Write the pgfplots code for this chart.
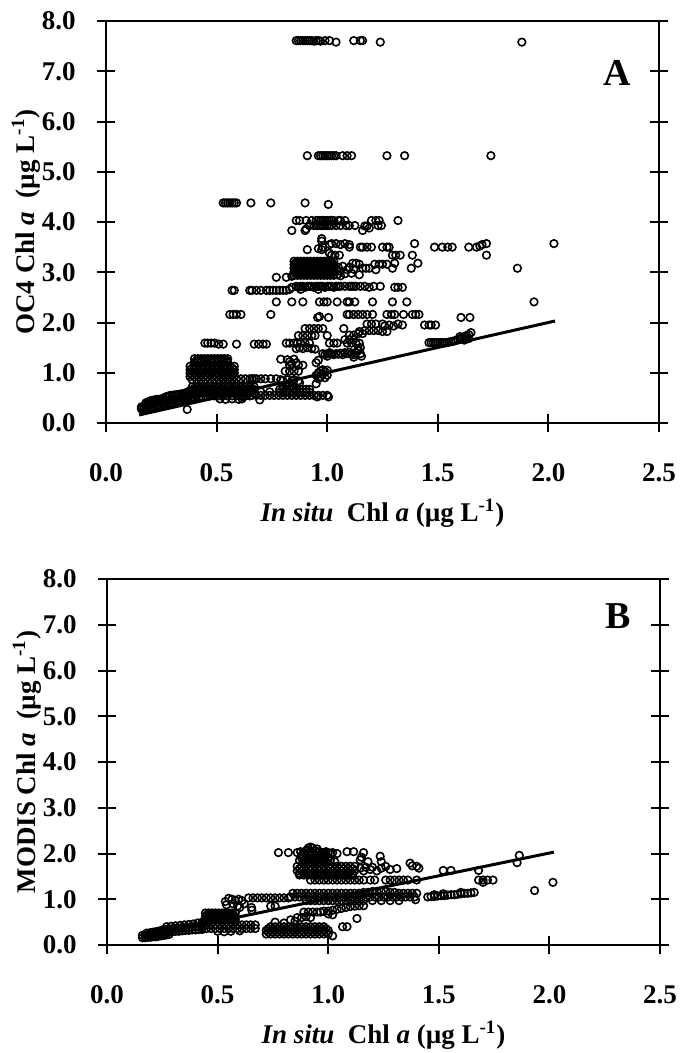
\documentclass[border=0pt]{standalone}
\usepackage{fontspec}
\setmainfont{Liberation Serif}
\usepackage{pgfplots}
\pgfplotsset{compat=1.18}

\pgfplotsset{chl/.style={
  scale only axis, width=276.5pt,
  xmin=0, xmax=2.5, ymin=0, ymax=8,
  xtick={0,0.5,1,1.5,2,2.5}, ytick={0,1,2,3,4,5,6,7,8},
  axis line style={line width=1pt},
  tick align=center, major tick length=9pt,
  every tick/.style={black, line width=1pt},
  xtick pos=left, ytick pos=both,
  /pgf/number format/assume math mode=true,
  tick label style={font=\bfseries\fontsize{13.5}{13.5}\selectfont},
  xticklabel style={yshift=-12.4pt,/pgf/number format/fixed,/pgf/number format/fixed zerofill,/pgf/number format/precision=1},
  yticklabel style={xshift=-7.2pt,/pgf/number format/fixed,/pgf/number format/fixed zerofill,/pgf/number format/precision=1},
  every axis y label/.style={at={(axis description cs:-0.1447,0.5)}, rotate=90, anchor=center,
    font=\bfseries\fontsize{13.5}{15}\selectfont},
  every axis x label/.style={at={(axis description cs:0.5,0)}, anchor=center, yshift=-45pt,
    font=\bfseries\fontsize{13.5}{15}\selectfont},
  xlabel={\textit{In situ}\ \ Chl \textit{a} (µg L\textsuperscript{-1})},
  pts/.style={only marks, mark=o, mark size=1.9pt, mark options={line width=0.8pt, black}},
  oneone/.style={black, line width=1.5pt, no marks},
}}

\begin{document}
\begin{tikzpicture}
\path[use as bounding box] (0,0) rectangle (341pt,-526.5pt);

% ---------------- panel A: OC4 ----------------
\begin{axis}[chl, at={(53pt,-211.5pt)}, anchor=south west, height=201pt,
  ylabel={OC4 Chl \textit{a} \ (µg L\textsuperscript{-1})}]
\addplot[pts] coordinates {
(0.86,7.61) (0.87,7.61) (0.88,7.61) (0.89,7.61) (0.90,7.61) (0.91,7.61) (0.92,7.61) (0.93,7.61) (0.94,7.60) (0.95,7.61)
(0.96,7.61) (0.97,7.60) (0.99,7.61) (1.01,7.61) (1.04,7.58) (1.12,7.61) (1.15,7.61) (1.16,7.61) (1.24,7.58) (1.88,7.58)
(0.91,5.32) (0.96,5.32) (0.97,5.32) (0.98,5.32) (0.99,5.32) (1.00,5.32) (1.01,5.32) (1.02,5.32) (1.03,5.32) (1.04,5.32)
(1.07,5.32) (1.09,5.32) (1.11,5.32) (1.27,5.32) (1.35,5.32) (1.74,5.32)
(0.53,4.38) (0.54,4.38) (0.55,4.38) (0.56,4.38) (0.57,4.38) (0.58,4.38) (0.59,4.38) (0.655,4.38) (0.745,4.38) (0.90,4.38) (1.005,4.35)
(0.86,4.03) (0.875,4.03) (0.905,4.03) (0.93,4.03) (0.95,4.03) (0.96,4.03) (0.97,4.03) (0.98,4.03) (0.99,4.03) (1.00,4.03)
(1.01,4.03) (1.02,4.03) (1.03,4.03) (1.05,4.03) (1.06,4.03) (1.08,4.03) (1.20,4.03) (1.22,4.03) (1.235,4.03) (1.32,4.03)
(0.92,3.93) (0.94,3.93) (0.95,3.93) (0.96,3.93) (0.97,3.93) (0.98,3.93) (0.99,3.93) (1.00,3.93) (1.01,3.93) (1.02,3.93)
(1.04,3.93) (1.06,3.93) (1.085,3.93) (1.10,3.93) (1.125,3.93) (1.17,3.92) (1.18,3.92) (1.23,3.93) (1.245,3.93)
(0.84,3.83) (0.90,3.83) (0.905,3.86) (1.16,3.83) (1.19,3.88) (0.975,3.67) (0.975,3.62)
(0.96,3.47) (0.975,3.45) (0.98,3.50) (0.91,3.45) (1.01,3.55) (1.02,3.57) (1.04,3.57) (1.06,3.55) (1.08,3.57) (1.10,3.55)
(1.10,3.50) (1.15,3.50) (1.16,3.50) (1.18,3.50) (1.20,3.50) (1.25,3.50) (1.27,3.50) (1.28,3.50) (1.395,3.57) (1.485,3.50)
(1.52,3.50) (1.545,3.50) (1.565,3.50) (1.64,3.50) (1.675,3.50) (1.69,3.52) (1.70,3.55) (1.72,3.57) (2.025,3.57)
(1.02,3.34) (1.035,3.34) (1.055,3.34) (1.295,3.34) (1.31,3.34) (1.33,3.34) (1.385,3.34) (1.72,3.34) (1.01,3.38)
(1.115,3.18) (1.13,3.18) (1.145,3.16) (1.215,3.16) (1.235,3.16) (1.25,3.16) (1.27,3.16) (1.305,3.18) (1.41,3.18)
(1.16,3.08) (1.175,3.08) (1.19,3.08) (1.295,3.08) (1.38,3.08) (1.22,3.05) (1.145,2.95) (1.86,3.08)
(0.85,3.22) (0.865,3.22) (0.88,3.22) (0.895,3.22) (0.91,3.22) (0.925,3.22) (0.94,3.22) (0.955,3.22) (0.97,3.22) (0.985,3.22) (1.00,3.22) (1.015,3.22) (1.03,3.22)
(0.85,3.15) (0.865,3.15) (0.88,3.15) (0.895,3.15) (0.91,3.15) (0.925,3.15) (0.94,3.15) (0.955,3.15) (0.97,3.15) (0.985,3.15) (1.00,3.15) (1.015,3.15) (1.03,3.15)
(0.85,3.08) (0.865,3.08) (0.88,3.08) (0.895,3.08) (0.91,3.08) (0.925,3.08) (0.94,3.08) (0.955,3.08) (0.97,3.08) (0.985,3.08) (1.00,3.08) (1.015,3.08) (1.03,3.08)
(0.85,3.01) (0.865,3.01) (0.88,3.01) (0.895,3.01) (0.91,3.01) (0.925,3.01) (0.94,3.01) (0.955,3.01) (0.97,3.01) (0.985,3.01) (1.00,3.01) (1.015,3.01) (1.03,3.01)
(0.85,2.94) (0.865,2.94) (0.88,2.94) (0.895,2.94) (0.91,2.94) (0.925,2.94) (0.94,2.94) (0.955,2.94) (0.97,2.94) (0.985,2.94) (1.00,2.94) (1.015,2.94) (1.03,2.94)
(0.857,3.185) (0.872,3.185) (0.887,3.185) (0.902,3.185) (0.917,3.185) (0.932,3.185) (0.947,3.185) (0.962,3.185) (0.977,3.185) (0.992,3.185) (1.007,3.185) (1.022,3.185)
(0.857,3.115) (0.872,3.115) (0.887,3.115) (0.902,3.115) (0.917,3.115) (0.932,3.115) (0.947,3.115) (0.962,3.115) (0.977,3.115) (0.992,3.115) (1.007,3.115) (1.022,3.115)
(0.857,3.045) (0.872,3.045) (0.887,3.045) (0.902,3.045) (0.917,3.045) (0.932,3.045) (0.947,3.045) (0.962,3.045) (0.977,3.045) (0.992,3.045) (1.007,3.045) (1.022,3.045)
(0.857,2.975) (0.872,2.975) (0.887,2.975) (0.902,2.975) (0.917,2.975) (0.932,2.975) (0.947,2.975) (0.962,2.975) (0.977,2.975) (0.992,2.975) (1.007,2.975) (1.022,2.975)
(1.05,3.10) (1.06,3.02) (1.07,3.12) (1.08,2.97) (1.09,3.05) (1.10,3.10) (1.11,2.98) (1.12,3.06) (1.06,2.93) (1.045,2.95)
(0.77,2.90) (0.815,2.90) (0.84,2.92)
(0.57,2.64) (0.58,2.64) (0.65,2.64) (0.66,2.64) (0.68,2.64) (0.70,2.64) (0.725,2.64) (0.74,2.64) (0.755,2.64) (0.77,2.64)
(0.785,2.64) (0.80,2.64) (0.815,2.64) (0.83,2.66) (0.84,2.70) (0.86,2.72) (0.87,2.70) (0.88,2.72) (0.89,2.72) (0.90,2.70)
(0.91,2.72) (0.92,2.72) (0.93,2.72) (0.94,2.70) (0.95,2.72) (0.96,2.72) (0.97,2.72) (0.98,2.72) (0.99,2.70) (1.00,2.72)
(1.01,2.72) (1.02,2.72) (1.03,2.70) (1.04,2.72) (1.05,2.72) (1.06,2.72) (1.08,2.72) (1.10,2.72) (1.11,2.72) (1.12,2.72)
(1.13,2.72) (1.15,2.72) (1.17,2.72) (1.19,2.70) (1.21,2.72) (1.24,2.72) (1.305,2.70) (1.32,2.70) (1.34,2.70) (0.96,2.66) (0.88,2.66)
(0.77,2.41) (0.84,2.41) (0.89,2.41) (0.965,2.41) (0.985,2.41) (1.00,2.41) (1.045,2.41) (1.09,2.41) (1.10,2.41) (1.125,2.41)
(1.205,2.41) (1.295,2.41) (1.36,2.41) (1.935,2.41)
(0.56,2.16) (0.575,2.16) (0.59,2.16) (0.61,2.16) (0.745,2.16) (0.957,2.10) (0.965,2.12) (1.006,2.10) (1.09,2.16) (1.10,2.16)
(1.12,2.16) (1.14,2.16) (1.16,2.16) (1.18,2.16) (1.205,2.16) (1.27,2.16) (1.29,2.16) (1.305,2.16) (1.345,2.16) (1.385,2.16)
(1.40,2.16) (1.415,2.16) (1.605,2.10) (1.645,2.10)
(1.18,1.97) (1.20,1.97) (1.22,1.97) (1.25,1.97) (1.26,1.93) (1.28,1.95) (1.30,1.93) (1.32,1.97) (1.34,1.95) (1.44,1.95)
(1.46,1.95) (1.47,1.95) (1.49,1.95) (0.90,1.88) (0.92,1.88) (0.94,1.88) (0.96,1.88) (0.98,1.88) (1.075,1.88)
(1.145,1.82) (1.17,1.84) (1.19,1.84) (1.21,1.84) (1.23,1.84) (1.25,1.82) (1.27,1.82) (1.10,1.75) (1.12,1.75) (1.14,1.78)
(1.16,1.78) (0.87,1.74) (0.89,1.74) (0.91,1.74) (0.93,1.74) (0.945,1.74) (1.00,1.74) (1.08,1.66) (1.10,1.66) (1.12,1.66)
(0.447,1.59) (0.46,1.59) (0.475,1.59) (0.49,1.59) (0.51,1.57) (0.53,1.57) (0.59,1.57) (0.67,1.57) (0.69,1.57) (0.71,1.57)
(0.725,1.57) (0.815,1.59) (0.83,1.59) (0.85,1.59) (0.865,1.59) (0.88,1.59) (0.90,1.59) (0.92,1.59) (1.01,1.59) (1.03,1.59)
(1.045,1.59) (1.09,1.59) (1.11,1.59) (1.13,1.59) (1.145,1.59)
(1.46,1.60) (1.47,1.60) (1.48,1.60) (1.49,1.60) (1.50,1.60) (1.51,1.60) (1.52,1.60) (1.53,1.60) (1.54,1.60) (1.55,1.61)
(1.56,1.62) (1.57,1.63) (1.58,1.64) (1.59,1.66) (1.60,1.68) (1.60,1.72) (1.61,1.70) (1.62,1.72) (1.63,1.74) (1.64,1.76)
(1.65,1.80) (1.62,1.65) (1.64,1.68)
(0.86,1.48) (0.875,1.50) (0.89,1.48) (0.91,1.50) (0.93,1.48) (0.945,1.47)
(0.98,1.38) (0.99,1.36) (1.00,1.38) (1.01,1.40) (1.02,1.38) (1.03,1.36) (1.04,1.38) (1.05,1.37) (1.06,1.39) (1.07,1.36)
(1.08,1.40) (1.09,1.38) (1.10,1.41) (1.11,1.38) (1.12,1.36) (1.13,1.40) (1.14,1.44) (1.15,1.38) (1.155,1.33) (1.12,1.31)
(1.14,1.47) (1.15,1.50) (1.00,1.33) (0.96,1.25)
(0.79,1.27) (0.82,1.26) (0.83,1.22) (0.84,1.18) (0.85,1.27) (0.86,1.20) (0.87,1.15) (0.83,1.15) (0.95,1.20) (0.89,1.15)
(0.81,1.03) (0.83,1.03) (0.85,1.03) (0.87,1.03)
(0.95,0.95) (0.96,1.00) (0.97,1.04) (0.98,0.97) (0.99,1.02) (1.00,0.95) (0.97,0.92) (0.99,0.90) (0.96,0.88) (1.00,1.05) (0.98,1.06) (0.95,0.78)
(0.53,0.88) (0.55,0.88) (0.57,0.88) (0.59,0.88) (0.61,0.88) (0.63,0.88) (0.65,0.88) (0.66,0.88) (0.67,0.88) (0.68,0.88)
(0.70,0.88) (0.72,0.88) (0.745,0.88) (0.77,0.88) (0.79,0.86) (0.80,0.84) (0.82,0.86) (0.84,0.84) (0.85,0.86) (0.87,0.84) (0.875,0.80)
(0.66,0.55) (0.68,0.55) (0.70,0.55) (0.72,0.55) (0.74,0.55) (0.76,0.55) (0.78,0.55) (0.80,0.55) (0.82,0.55) (0.84,0.55)
(0.86,0.55) (0.88,0.55) (0.90,0.55) (0.92,0.55) (0.94,0.55) (0.96,0.55) (0.98,0.55) (1.00,0.55)
(0.785,0.61) (0.80,0.61) (0.815,0.61) (0.83,0.61) (0.845,0.61) (0.86,0.61) (0.875,0.61) (0.89,0.61) (0.905,0.61) (0.92,0.61)
(0.785,0.67) (0.80,0.67) (0.815,0.67) (0.83,0.67) (0.845,0.67) (0.86,0.67) (0.875,0.67) (0.89,0.67) (0.905,0.67) (0.92,0.67)
(0.80,0.72) (0.82,0.76) (0.84,0.74) (0.85,0.70) (0.695,0.46) (0.955,0.52) (1.006,0.52) (0.64,0.58) (0.62,0.52) (0.70,0.62) (0.74,0.62)
(0.40,1.28) (0.415,1.28) (0.43,1.28) (0.445,1.28) (0.46,1.28) (0.475,1.28) (0.49,1.28) (0.505,1.28) (0.52,1.28) (0.535,1.28) (0.55,1.28)
(0.40,1.21) (0.415,1.21) (0.43,1.21) (0.445,1.21) (0.46,1.21) (0.475,1.21) (0.49,1.21) (0.505,1.21) (0.52,1.21) (0.535,1.21) (0.55,1.21)
(0.41,1.245) (0.43,1.245) (0.45,1.245) (0.47,1.245) (0.49,1.245) (0.51,1.245) (0.53,1.245) (0.545,1.245)
(0.38,1.13) (0.40,1.13) (0.42,1.13) (0.44,1.13) (0.46,1.13) (0.48,1.13) (0.50,1.13) (0.52,1.13) (0.54,1.13) (0.56,1.13) (0.58,1.13)
(0.38,1.06) (0.40,1.06) (0.42,1.06) (0.44,1.06) (0.46,1.06) (0.48,1.06) (0.50,1.06) (0.52,1.06) (0.54,1.06) (0.56,1.06) (0.58,1.06)
(0.38,0.99) (0.40,0.99) (0.42,0.99) (0.44,0.99) (0.46,0.99) (0.48,0.99) (0.50,0.99) (0.52,0.99) (0.54,0.99) (0.56,0.99) (0.58,0.99)
(0.38,0.92) (0.40,0.92) (0.42,0.92) (0.44,0.92) (0.46,0.92) (0.48,0.92) (0.50,0.92) (0.52,0.92) (0.54,0.92) (0.56,0.92) (0.58,0.92)
(0.39,1.095) (0.41,1.095) (0.43,1.095) (0.45,1.095) (0.47,1.095) (0.49,1.095) (0.51,1.095) (0.53,1.095) (0.55,1.095) (0.57,1.095)
(0.39,1.025) (0.41,1.025) (0.43,1.025) (0.45,1.025) (0.47,1.025) (0.49,1.025) (0.51,1.025) (0.53,1.025) (0.55,1.025) (0.57,1.025)
(0.39,0.955) (0.41,0.955) (0.43,0.955) (0.45,0.955) (0.47,0.955) (0.49,0.955) (0.51,0.955) (0.53,0.955) (0.55,0.955) (0.57,0.955)
(0.39,0.86) (0.41,0.86) (0.43,0.86) (0.45,0.86) (0.47,0.86) (0.49,0.86) (0.51,0.86) (0.53,0.86) (0.55,0.86) (0.57,0.86)
(0.39,0.72) (0.41,0.72) (0.43,0.72) (0.45,0.72) (0.47,0.72) (0.49,0.72) (0.51,0.72) (0.53,0.72) (0.55,0.72) (0.57,0.72) (0.59,0.72) (0.61,0.72) (0.63,0.72) (0.65,0.72) (0.67,0.72)
(0.39,0.66) (0.41,0.66) (0.43,0.66) (0.45,0.66) (0.47,0.66) (0.49,0.66) (0.51,0.66) (0.53,0.66) (0.55,0.66) (0.57,0.66) (0.59,0.66) (0.61,0.66) (0.63,0.66) (0.65,0.66) (0.67,0.66)
(0.39,0.60) (0.41,0.60) (0.43,0.60) (0.45,0.60) (0.47,0.60) (0.49,0.60) (0.51,0.60) (0.53,0.60) (0.55,0.60) (0.57,0.60) (0.59,0.60) (0.61,0.60) (0.63,0.60) (0.65,0.60) (0.67,0.60)
(0.40,0.69) (0.42,0.69) (0.44,0.69) (0.46,0.69) (0.48,0.69) (0.50,0.69) (0.52,0.69) (0.54,0.69) (0.56,0.69) (0.58,0.69) (0.60,0.69) (0.62,0.69) (0.64,0.69) (0.66,0.69)
(0.40,0.63) (0.42,0.63) (0.44,0.63) (0.46,0.63) (0.48,0.63) (0.50,0.63) (0.52,0.63) (0.54,0.63) (0.56,0.63) (0.58,0.63) (0.60,0.63) (0.62,0.63) (0.64,0.63) (0.66,0.63)
(0.41,0.54) (0.43,0.54) (0.45,0.54) (0.47,0.54) (0.49,0.54) (0.51,0.54) (0.53,0.54) (0.55,0.54) (0.57,0.54) (0.59,0.54) (0.61,0.54) (0.63,0.54) (0.65,0.54)
(0.515,0.48) (0.54,0.47) (0.57,0.48) (0.60,0.47) (0.615,0.48) (0.367,0.27)
(0.16,0.28) (0.16,0.32) (0.17,0.27) (0.17,0.33) (0.18,0.28) (0.18,0.35) (0.18,0.40) (0.19,0.30) (0.19,0.36) (0.19,0.42)
(0.20,0.31) (0.20,0.37) (0.20,0.44) (0.21,0.30) (0.21,0.38) (0.21,0.45) (0.22,0.32) (0.22,0.39) (0.22,0.46) (0.23,0.33)
(0.23,0.40) (0.23,0.47) (0.24,0.34) (0.24,0.41) (0.24,0.47) (0.25,0.35) (0.25,0.42) (0.25,0.48) (0.26,0.36) (0.26,0.43)
(0.26,0.49) (0.27,0.36) (0.27,0.44) (0.27,0.52) (0.28,0.38) (0.28,0.45) (0.28,0.53) (0.29,0.39) (0.29,0.46) (0.29,0.55)
(0.30,0.38) (0.30,0.47) (0.30,0.55) (0.31,0.40) (0.31,0.48) (0.31,0.56) (0.32,0.41) (0.32,0.49) (0.32,0.56) (0.33,0.42)
(0.33,0.50) (0.33,0.57) (0.34,0.44) (0.34,0.50) (0.34,0.58) (0.35,0.45) (0.35,0.52) (0.35,0.58) (0.36,0.46) (0.36,0.53)
(0.36,0.60) (0.37,0.46) (0.37,0.54) (0.37,0.62) (0.38,0.48) (0.38,0.55) (0.38,0.64) (0.39,0.50) (0.39,0.57) (0.39,0.66)
(0.40,0.50) (0.40,0.58) (0.40,0.68)
};
\addplot[oneone] coordinates {(0.15,0.16) (2.03,2.03)};
\node[font=\bfseries\fontsize{19}{19}\selectfont] at (axis description cs:0.924,0.871) {A};
\end{axis}

% ---------------- panel B: MODIS ----------------
\begin{axis}[chl, at={(53.5pt,-472.5pt)}, anchor=south west, height=183pt,
  ylabel={MODIS Chl \textit{a} \ (µg L\textsuperscript{-1})}]
\addplot[pts] coordinates {
(0.775,2.02) (0.82,2.02) (0.86,2.02) (0.875,2.04) (0.89,2.02) (0.90,2.06) (0.91,2.12) (0.92,2.14) (0.93,2.12) (0.94,2.06)
(0.95,2.02) (0.96,2.04) (0.97,2.02) (0.98,2.02) (0.99,2.04) (1.00,2.02) (1.01,2.00) (1.02,2.02) (1.04,2.00) (1.085,2.04)
(1.115,2.04) (1.16,2.02) (1.15,1.92) (1.235,1.94) (0.88,1.96) (0.90,1.96) (0.92,1.96) (0.94,1.96) (0.96,1.96) (0.98,1.94)
(1.00,1.92) (0.905,2.08) (0.95,2.10)
(0.87,1.85) (0.89,1.85) (0.91,1.85) (0.93,1.85) (0.95,1.85) (0.97,1.85) (0.99,1.83) (1.01,1.85) (1.03,1.82) (1.145,1.86)
(1.18,1.82) (1.24,1.82) (1.37,1.79) (1.40,1.72)
(0.86,1.72) (0.88,1.72) (0.90,1.72) (0.92,1.72) (0.94,1.72) (0.96,1.72) (0.98,1.72) (1.00,1.72) (1.02,1.72) (1.04,1.72) (1.06,1.72) (1.08,1.72) (1.10,1.72) (1.12,1.72)
(0.86,1.62) (0.88,1.62) (0.90,1.62) (0.92,1.62) (0.94,1.62) (0.96,1.62) (0.98,1.62) (1.00,1.62) (1.02,1.62) (1.04,1.62) (1.06,1.62) (1.08,1.62) (1.10,1.62) (1.12,1.62)
(0.87,1.53) (0.89,1.53) (0.91,1.53) (0.93,1.53) (0.95,1.53) (0.97,1.53) (0.99,1.53) (1.01,1.53) (1.03,1.53) (1.05,1.53) (1.07,1.53) (1.09,1.53) (1.11,1.53)
(0.87,1.67) (0.89,1.67) (0.91,1.67) (0.93,1.67) (0.95,1.67) (0.97,1.67) (0.99,1.67) (1.01,1.67) (1.03,1.67) (1.05,1.67) (1.07,1.67) (1.09,1.67) (1.11,1.67)
(0.87,1.57) (0.89,1.57) (0.91,1.57) (0.93,1.57) (0.95,1.57) (0.97,1.57) (0.99,1.57) (1.01,1.57) (1.03,1.57) (1.05,1.57) (1.07,1.57) (1.09,1.57) (1.11,1.57)
(0.88,1.90) (0.90,1.90) (0.92,1.90) (0.94,1.90) (0.96,1.90) (0.98,1.90) (0.89,1.78) (0.91,1.78) (0.93,1.78) (0.95,1.78) (0.97,1.78) (0.99,1.78)
(1.145,1.68) (1.16,1.62) (1.17,1.70) (1.19,1.65) (1.20,1.70) (1.22,1.62) (1.24,1.68) (1.26,1.72) (1.28,1.65) (1.31,1.67)
(1.38,1.73) (1.41,1.68) (1.52,1.63) (1.555,1.63) (1.68,1.63) (1.864,1.96) (1.854,1.80) (1.933,1.19) (2.016,1.37)
(0.92,1.42) (0.94,1.42) (0.96,1.42) (0.98,1.42) (1.00,1.42) (1.02,1.42) (1.04,1.42) (1.06,1.42) (1.08,1.42) (1.10,1.42)
(1.12,1.42) (1.14,1.42) (1.16,1.42) (1.19,1.42) (1.21,1.42) (1.26,1.42) (1.28,1.42) (1.30,1.42) (1.32,1.42) (1.34,1.42)
(1.36,1.42) (1.40,1.42) (1.68,1.42) (1.70,1.42) (1.72,1.42) (1.745,1.42) (1.70,1.37)
(0.83,1.05) (0.85,1.05) (0.87,1.05) (0.89,1.05) (0.91,1.05) (0.93,1.05) (0.95,1.05) (0.97,1.05) (0.99,1.05) (1.01,1.05)
(1.03,1.05) (1.05,1.05) (1.07,1.05) (1.09,1.05) (1.11,1.05) (1.13,1.05) (1.15,1.05) (1.17,1.05) (1.19,1.05) (1.21,1.05)
(1.23,1.05) (1.25,1.05) (1.27,1.05) (1.29,1.05) (1.31,1.05) (1.33,1.05) (1.35,1.05) (1.37,1.05) (1.39,1.05)
(0.84,1.13) (0.86,1.13) (0.88,1.13) (0.90,1.13) (0.92,1.13) (0.94,1.13) (0.96,1.13) (0.98,1.13) (1.00,1.13) (1.02,1.13)
(1.04,1.13) (1.06,1.13) (1.08,1.13) (1.10,1.13) (1.12,1.13) (1.14,1.13) (1.16,1.15) (1.18,1.15) (1.20,1.17) (1.22,1.17)
(1.24,1.17) (1.26,1.17) (1.28,1.15) (1.30,1.15) (1.32,1.13) (1.34,1.13) (1.36,1.13) (1.38,1.13) (1.40,1.13)
(0.90,0.97) (0.92,0.97) (0.94,0.97) (0.96,0.97) (0.98,0.97) (1.00,0.97) (1.02,0.97) (1.04,0.97) (1.06,0.97) (1.08,0.97)
(1.10,0.97) (1.12,0.97) (1.14,0.97) (1.16,0.97) (1.20,0.97) (1.24,0.97) (1.28,0.97) (1.32,0.97) (1.395,0.99)
(1.45,1.05) (1.465,1.06) (1.48,1.06) (1.495,1.07) (1.51,1.08) (1.525,1.08) (1.54,1.09) (1.555,1.10) (1.57,1.10) (1.585,1.11)
(1.60,1.12) (1.615,1.13) (1.63,1.13) (1.645,1.14) (1.66,1.15) (1.48,1.10) (1.52,1.12) (1.60,1.15)
(0.64,1.03) (0.66,1.03) (0.68,1.03) (0.70,1.03) (0.72,1.03) (0.74,1.03) (0.76,1.03) (0.78,1.03) (0.80,1.03) (0.82,1.03)
(0.565,1.00) (0.58,0.97) (0.595,1.00) (0.61,0.97) (0.535,0.95) (0.55,1.02) (0.57,0.90) (0.59,0.85) (0.54,0.88) (0.60,0.82)
(0.62,0.90) (0.655,0.76) (0.653,0.82) (0.74,0.85) (0.76,0.85)
(0.445,0.70) (0.46,0.70) (0.475,0.70) (0.49,0.70) (0.505,0.70) (0.52,0.70) (0.535,0.70) (0.55,0.70) (0.565,0.70) (0.58,0.70)
(0.445,0.62) (0.46,0.62) (0.475,0.62) (0.49,0.62) (0.505,0.62) (0.52,0.62) (0.535,0.62) (0.55,0.62) (0.565,0.62) (0.58,0.62)
(0.445,0.55) (0.46,0.55) (0.475,0.55) (0.49,0.55) (0.505,0.55) (0.52,0.55) (0.535,0.55) (0.55,0.55) (0.565,0.55) (0.58,0.55)
(0.452,0.66) (0.467,0.66) (0.482,0.66) (0.497,0.66) (0.512,0.66) (0.527,0.66) (0.542,0.66) (0.557,0.66) (0.572,0.66)
(0.452,0.585) (0.467,0.585) (0.482,0.585) (0.497,0.585) (0.512,0.585) (0.527,0.585) (0.542,0.585) (0.557,0.585) (0.572,0.585)
(0.43,0.44) (0.45,0.44) (0.47,0.44) (0.49,0.44) (0.51,0.44) (0.53,0.44) (0.55,0.44) (0.57,0.44) (0.59,0.44) (0.61,0.44) (0.63,0.44) (0.65,0.44) (0.67,0.44)
(0.43,0.36) (0.45,0.36) (0.47,0.36) (0.49,0.36) (0.51,0.36) (0.53,0.36) (0.55,0.36) (0.57,0.36) (0.59,0.36) (0.61,0.36) (0.63,0.36) (0.65,0.36) (0.67,0.36)
(0.50,0.30) (0.53,0.29) (0.56,0.30) (0.60,0.31)
(0.25,0.27) (0.265,0.28) (0.28,0.28) (0.295,0.29) (0.31,0.30) (0.325,0.30) (0.34,0.31) (0.355,0.32) (0.37,0.32) (0.385,0.33) (0.40,0.33) (0.415,0.34) (0.43,0.34)
(0.25,0.33) (0.265,0.34) (0.28,0.34) (0.295,0.35) (0.31,0.36) (0.325,0.36) (0.34,0.37) (0.355,0.38) (0.37,0.38) (0.385,0.39) (0.40,0.40) (0.415,0.40) (0.43,0.41)
(0.27,0.40) (0.29,0.41) (0.31,0.42) (0.33,0.43) (0.35,0.44) (0.37,0.45) (0.39,0.46) (0.41,0.48) (0.43,0.50)
(0.16,0.16) (0.172,0.16) (0.184,0.17) (0.196,0.17) (0.208,0.18) (0.22,0.18) (0.232,0.19) (0.244,0.20) (0.256,0.21) (0.268,0.22) (0.28,0.23)
(0.16,0.21) (0.172,0.21) (0.184,0.22) (0.196,0.22) (0.208,0.23) (0.22,0.24) (0.232,0.25) (0.244,0.25) (0.256,0.26) (0.268,0.27) (0.28,0.28)
(0.18,0.26) (0.196,0.27) (0.208,0.28) (0.22,0.29) (0.232,0.30) (0.244,0.31) (0.256,0.31) (0.268,0.33) (0.28,0.34)
(0.72,0.24) (0.74,0.24) (0.76,0.24) (0.78,0.24) (0.80,0.24) (0.82,0.24) (0.84,0.24) (0.86,0.24) (0.88,0.24) (0.90,0.24) (0.92,0.24) (0.94,0.24) (0.96,0.24) (0.98,0.24) (1.00,0.24)
(0.72,0.32) (0.74,0.32) (0.76,0.32) (0.78,0.32) (0.80,0.32) (0.82,0.32) (0.84,0.32) (0.86,0.32) (0.88,0.32) (0.90,0.32) (0.92,0.32) (0.94,0.32) (0.96,0.32) (0.98,0.32) (1.00,0.32)
(0.74,0.40) (0.76,0.40) (0.78,0.40) (0.80,0.40) (0.82,0.40) (0.84,0.40) (0.86,0.40) (0.88,0.40) (0.90,0.40) (0.92,0.40) (0.94,0.40) (0.96,0.40) (0.98,0.40)
(0.73,0.28) (0.75,0.28) (0.77,0.28) (0.79,0.28) (0.81,0.28) (0.83,0.28) (0.85,0.28) (0.87,0.28) (0.89,0.28) (0.91,0.28) (0.93,0.28) (0.95,0.28) (0.97,0.28) (0.99,0.28)
(0.73,0.36) (0.75,0.36) (0.77,0.36) (0.79,0.36) (0.81,0.36) (0.83,0.36) (0.85,0.36) (0.87,0.36) (0.89,0.36) (0.91,0.36) (0.93,0.36) (0.95,0.36) (0.97,0.36) (0.99,0.36)
(0.76,0.50) (0.80,0.48) (0.85,0.52)
(0.86,0.60) (0.88,0.60) (0.90,0.62) (0.92,0.60) (0.89,0.72) (0.91,0.72) (0.93,0.72) (0.95,0.72) (0.965,0.72) (0.98,0.74)
(1.00,0.74) (1.02,0.76) (1.04,0.78) (1.06,0.80) (1.08,0.82) (1.10,0.84) (1.12,0.85) (1.14,0.86) (1.16,0.86) (1.00,0.68)
(1.02,0.66) (1.13,0.58) (0.83,0.55) (1.065,0.40) (1.085,0.40) (1.02,0.20)
};
\addplot[oneone] coordinates {(0.16,0.18) (2.02,2.03)};
\node[font=\bfseries\fontsize{19}{19}\selectfont] at (axis description cs:0.924,0.898) {B};
\end{axis}
\end{tikzpicture}
\end{document}
